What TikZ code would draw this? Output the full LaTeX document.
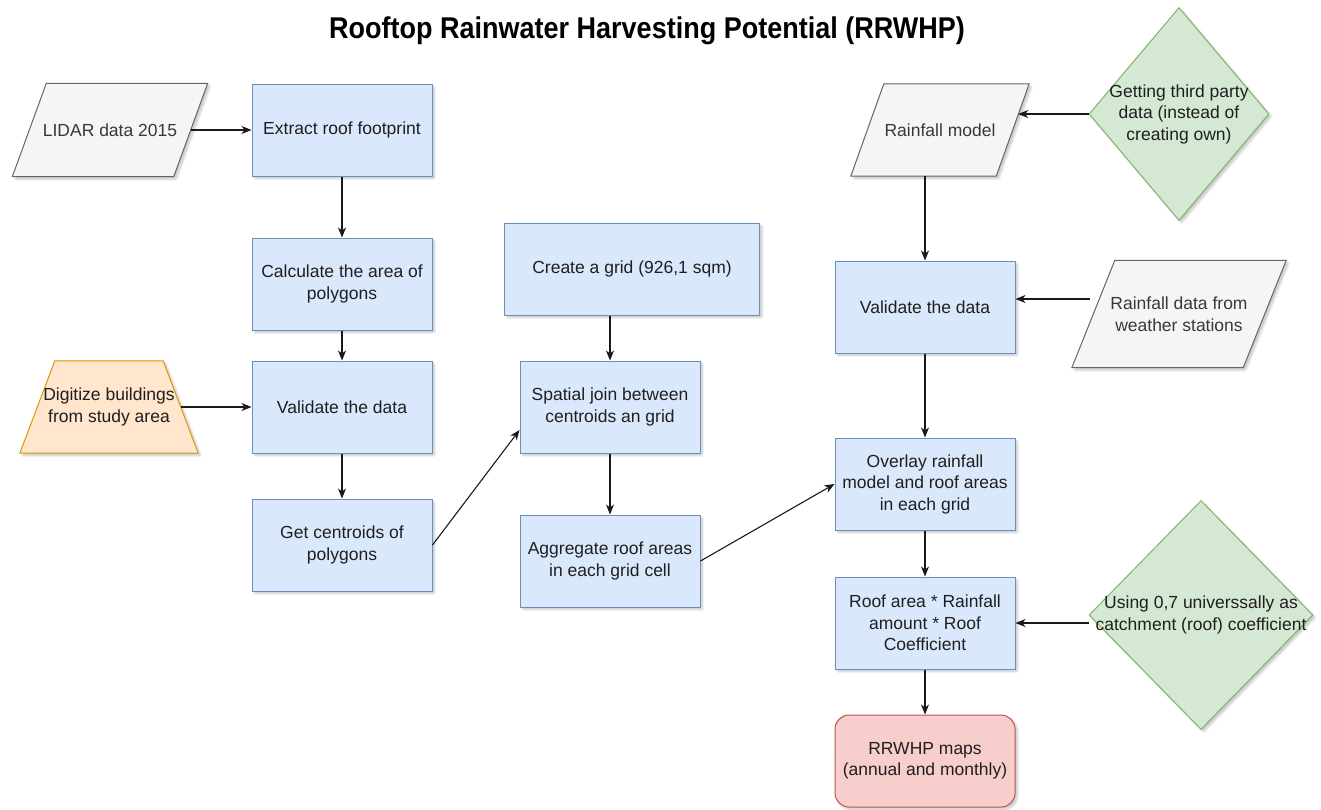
\documentclass[tikz,border=0pt]{standalone}
\usepackage{fontspec}
\setmainfont{Liberation Sans}
\usetikzlibrary{shapes.geometric,arrows.meta,shadows,shadows.blur,calc,backgrounds}

\definecolor{procfill}{HTML}{DAE8FC}
\definecolor{procline}{HTML}{6C8EBF}
\definecolor{datafill}{HTML}{F5F5F5}
\definecolor{dataline}{HTML}{666666}
\definecolor{manfill}{HTML}{FFE6CC}
\definecolor{manline}{HTML}{D79B00}
\definecolor{decfill}{HTML}{D5E8D4}
\definecolor{decline}{HTML}{82B366}
\definecolor{endfill}{HTML}{F8CECC}
\definecolor{endline}{HTML}{B85450}

\tikzset{
  softshadow/.style={blur shadow={shadow xshift=2.5pt, shadow yshift=-2.5pt,
      shadow blur steps=6, shadow blur extra rounding=1pt, shadow opacity=22}},
  label text/.style={font=\fontsize{17.5}{21.5}\selectfont, align=center,
    inner sep=0pt, text=black!88},
  base/.style={label text, line width=1pt, softshadow},
  proc/.style={base, rectangle, draw=procline, fill=procfill,
    minimum width=180pt, minimum height=92pt},
  % slanted shapes: the node holds the text, the outline is drawn behind it
  slanted/.style={label text, rectangle},
  dataoutline/.style={draw=dataline, fill=datafill, line width=1pt, softshadow},
  manoutline/.style={draw=manline, fill=manfill, line width=1pt, softshadow},
  decision/.style={base, diamond, draw=decline, fill=decfill},
  terminal/.style={base, rectangle, rounded corners=14pt, draw=endline, fill=endfill,
    minimum width=180pt, minimum height=92pt},
  arr/.style={-{Stealth[length=10pt,width=8pt,inset=3pt]}, line width=1.1pt, black!90}
}

\begin{document}
\begin{tikzpicture}[x=1pt,y=-1pt]
\useasboundingbox (0,0) rectangle (1321,809);

% heading
\node[font=\bfseries\fontsize{30}{36}\selectfont] (title) at (647,31)
  {\scalebox{0.9}[1]{Rooftop Rainwater Harvesting Potential (RRWHP)}};

% left column: building footprints
\node[slanted, text=black!78, minimum width=195pt, minimum height=93pt] (lidar) at (110,130)
  {LIDAR data 2015};
\node[proc] (extract) at (342,130) {Extract roof footprint};
\node[proc] (area) at (342,284) {Calculate the area of\\polygons};
\node[proc] (validL) at (342,407) {Validate the data};
\node[proc] (centr) at (342,545) {Get centroids of\\polygons};
\node[slanted, minimum width=178pt, minimum height=92pt] (digit) at (109,407)
  {Digitize buildings\\from study area};

% middle column: grid aggregation
\node[proc, minimum width=255pt] (grid) at (632,269) {Create a grid (926,1 sqm)};
\node[proc] (join) at (610,407) {Spatial join between\\centroids an grid};
\node[proc] (agg) at (610,561) {Aggregate roof areas\\in each grid cell};

% right column: rainfall
\node[slanted, text=black!78, minimum width=178pt, minimum height=92pt] (rain) at (940,130)
  {Rainfall model};
\node[decision, minimum width=180pt, minimum height=213pt] (third) at (1179,114)
  {\makebox[0pt]{Getting third party}\\\makebox[0pt]{data (instead of}\\\makebox[0pt]{creating own)}};
\node[proc] (validR) at (925,307) {Validate the data};
\node[slanted, text=black!78, minimum width=214pt, minimum height=107pt] (stations) at (1179,314)
  {Rainfall data from\\weather stations};
\node[proc] (overlay) at (925,484) {Overlay rainfall\\model and roof areas\\in each grid};
\node[proc] (roof) at (925,623) {Roof area * Rainfall\\amount * Roof\\Coefficient};
\node[decision, minimum width=224pt, minimum height=229pt] (coef) at (1201,615)
  {\makebox[0pt]{Using 0,7 universsally as}\\\makebox[0pt]{catchment (roof) coefficient}};
\node[terminal] (maps) at (925,761) {RRWHP maps\\(annual and monthly)};

% outlines of the data (parallelogram) and manual-input (trapezoid) shapes
\begin{scope}[on background layer]
  \path[dataoutline] ([xshift=34pt]lidar.north west) -- (lidar.north east)
    -- ([xshift=-34pt]lidar.south east) -- (lidar.south west) -- cycle;
  \path[dataoutline] ([xshift=33pt]rain.north west) -- (rain.north east)
    -- ([xshift=-33pt]rain.south east) -- (rain.south west) -- cycle;
  \path[dataoutline] ([xshift=43pt]stations.north west) -- (stations.north east)
    -- ([xshift=-43pt]stations.south east) -- (stations.south west) -- cycle;
  \path[manoutline] ([xshift=35pt]digit.north west) -- ([xshift=-35pt]digit.north east)
    -- (digit.south east) -- (digit.south west) -- cycle;
\end{scope}

% points on the slanted sides where connectors meet them
\coordinate (lidarOut) at ([xshift=-17pt]lidar.east);
\coordinate (digitOut) at ([xshift=-17.5pt]digit.east);
\coordinate (rainIn) at ([xshift=-11pt]rain.east);
\coordinate (stOut) at ([shift={(28,-15)}]stations.west);

% connectors
\draw[arr] (lidarOut) -- (extract.west);
\draw[arr] (extract.south) -- (area.north);
\draw[arr] (area.south) -- (validL.north);
\draw[arr] (validL.south) -- (centr.north);
\draw[arr] (digitOut) -- (validL.west);
\draw[arr] (centr.east) -- ([yshift=-23pt]join.west);
\draw[arr] (join.north |- grid.south) -- (join.north);
\draw[arr] (join.south) -- (agg.north);
\draw[arr] (agg.east) -- (overlay.west);
\draw[arr] (third.west) -- (third.west -| rainIn);
\draw[arr] (validR.north |- rain.south) -- (validR.north);
\draw[arr, shorten <=10pt] (stOut) -- (stOut -| validR.east);
\draw[arr] (validR.south) -- (overlay.north);
\draw[arr] (overlay.south) -- (roof.north);
\draw[arr] (coef.west |- roof.east) -- (roof.east);
\draw[arr] (roof.south) -- (maps.north);
\end{tikzpicture}
\end{document}
